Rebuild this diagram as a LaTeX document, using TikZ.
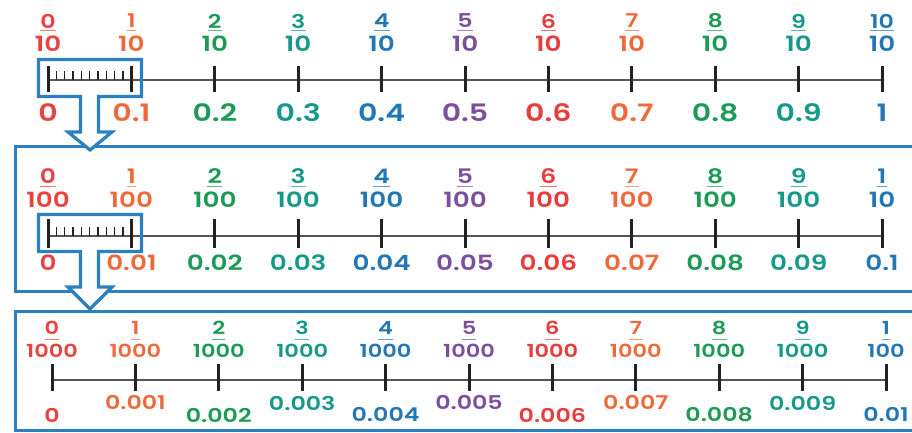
\documentclass[tikz,border=0pt]{standalone}
\usepackage{fontspec}
\setmainfont{Poppins}[UprightFont=* SemiBold,FakeStretch=1.25]
\usetikzlibrary{calc}
\definecolor{c0}{HTML}{E8433F}
\definecolor{c1}{HTML}{EE6A3A}
\definecolor{c2}{HTML}{1E9A57}
\definecolor{c3}{HTML}{17998A}
\definecolor{c4}{HTML}{2277B4}
\definecolor{c5}{HTML}{7B4F9E}
\definecolor{c6}{HTML}{E63D3D}
\definecolor{c7}{HTML}{EE6A3A}
\definecolor{c8}{HTML}{1E9A57}
\definecolor{c9}{HTML}{17998A}
\definecolor{c10}{HTML}{2277B4}
\definecolor{boxblue}{HTML}{2C80C2}
\definecolor{axisgray}{HTML}{555555}
\definecolor{tickcol}{HTML}{222222}
\begin{document}
\begin{tikzpicture}[x=1pt,y=-1pt,
  frame/.style={draw=boxblue,line width=3pt},
  magline/.style={draw=boxblue,line width=3.2pt,line join=miter},
  axis/.style={draw=axisgray,line width=1.8pt},
  bigtick/.style={draw=tickcol,line width=3pt},
  smalltick/.style={draw=tickcol,line width=1.3pt},
  lab/.style={inner sep=0pt},
  fbar/.style={line width=1.4pt}]
\useasboundingbox (0,0) rectangle (912,433);
\clip (0,0) rectangle (912,433);
% frames
\draw[frame] (15.5,146.5) rectangle (940,291.5);
\draw[frame] (15.5,311.5) rectangle (940,430.5);

% ---------------- top row ----------------
\foreach \i in {0,...,10} \coordinate (t\i) at ({48+83.4*\i},80);
\draw[axis] (t0) -- (t10);
\foreach \i in {0,...,10} \draw[bigtick] (t\i) ++(0,-14) -- ++(0,26);
\foreach \j in {1,...,9} \draw[smalltick] ($(t0)!\j/10!(t1)$) -- ++(0,-9);
\foreach \i/\n/\d/\l in {0/0/10/0,1/1/10/0.1,2/2/10/0.2,3/3/10/0.3,4/4/10/0.4,5/5/10/0.5,6/6/10/0.6,7/7/10/0.7,8/8/10/0.8,9/9/10/0.9,10/10/10/1}{
  \node[lab,font=\fontsize{19}{19}\selectfont,text=c\i] (tn\i) at ({48+83.4*\i},21) {\n};
  \node[lab,font=\fontsize{21}{21}\selectfont,text=c\i] (td\i) at ({48+83.4*\i},44) {\d};
  \draw[fbar,draw=c\i!70] (tn\i.west |- 0,30.5) -- (tn\i.east |- 0,30.5);
  \node[lab,font=\fontsize{24}{24}\selectfont,text=c\i] (tl\i) at ({48+83.4*\i},113) {\l};
}

% ---------------- middle row ----------------
\foreach \i in {0,...,10} \coordinate (m\i) at ({48+83.4*\i},236);
\draw[axis] (m0) -- (m10);
\foreach \i in {0,...,10} \draw[bigtick] (m\i) ++(0,-17) -- ++(0,29);
\foreach \j in {1,...,9} \draw[smalltick] ($(m0)!\j/10!(m1)$) -- ++(0,-9);
\foreach \i/\n/\d/\l in {0/0/100/0,1/1/100/0.01,2/2/100/0.02,3/3/100/0.03,4/4/100/0.04,5/5/100/0.05,6/6/100/0.06,7/7/100/0.07,8/8/100/0.08,9/9/100/0.09,10/1/10/0.1}{
  \node[lab,font=\fontsize{20}{20}\selectfont,text=c\i] (mn\i) at ({48+83.4*\i},176) {\n};
  \node[lab,font=\fontsize{21}{21}\selectfont,text=c\i] (md\i) at ({48+83.4*\i},200) {\d};
  \draw[fbar,draw=c\i!70] (mn\i.west |- 0,186.5) -- (mn\i.east |- 0,186.5);
  \node[lab,font=\fontsize{21}{21}\selectfont,text=c\i] (ml\i) at ({48+83.4*\i},263) {\l};
}

% ---------------- bottom row ----------------
\foreach \i in {0,...,10} \coordinate (b\i) at ({52+83.4*\i},380);
\draw[axis] (b0) -- (b10);
\foreach \i in {0,...,10} \draw[bigtick] (b\i) ++(0,-16) -- ++(0,27);
\foreach \i/\n/\d/\l in {0/0/1000/0,1/1/1000/0.001,2/2/1000/0.002,3/3/1000/0.003,4/4/1000/0.004,5/5/1000/0.005,6/6/1000/0.006,7/7/1000/0.007,8/8/1000/0.008,9/9/1000/0.009,10/1/100/0.01}{
  \pgfmathsetmacro\dy{isodd(\i) ? 403 : 415}
  \node[lab,font=\fontsize{18}{18}\selectfont,text=c\i] (bn\i) at ({52+83.4*\i},328) {\n};
  \node[lab,font=\fontsize{18}{18}\selectfont,text=c\i] (bd\i) at ({52+83.4*\i},351) {\d};
  \draw[fbar,draw=c\i!70] (bn\i.west |- 0,339.5) -- (bn\i.east |- 0,339.5);
  \node[lab,font=\fontsize{19}{19}\selectfont,text=c\i] (bl\i) at ({52+83.4*\i},\dy) {\l};
}

% ---------------- magnifier callouts ----------------
\fill[white] (80.5,96.5) -- (98.5,96.5) -- (98.5,132) -- (112,132) -- (90,150) -- (68,132) -- (80.5,132) -- cycle;
\draw[magline] (80.5,96.5) -- (38.5,96.5) -- (38.5,59.5) -- (141.5,59.5) -- (141.5,96.5) -- (98.5,96.5)
  -- (98.5,132) -- (112,132) -- (90,150) -- (68,132) -- (80.5,132) -- cycle;
\fill[white] (80.5,251.5) -- (98.5,251.5) -- (98.5,287) -- (112,287) -- (90,309) -- (68,287) -- (80.5,287) -- cycle;
\draw[magline] (80.5,251.5) -- (38.5,251.5) -- (38.5,214.5) -- (141.5,214.5) -- (141.5,251.5) -- (98.5,251.5)
  -- (98.5,287) -- (112,287) -- (90,309) -- (68,287) -- (80.5,287) -- cycle;
\end{tikzpicture}
\end{document}
